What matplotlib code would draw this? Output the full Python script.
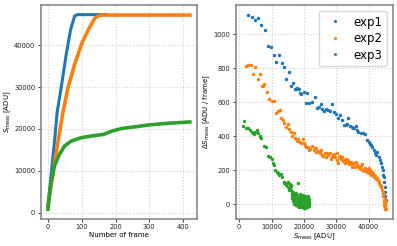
import numpy as np
import matplotlib
matplotlib.use('Agg')
import matplotlib.pyplot as plt

# left panel: signal vs frame (read at key frames)
exp1_frame = [0, 9, 19, 27, 39, 54, 67, 79, 88, 170]
exp1_sig = [1500, 8700, 16700, 23900, 29800, 37800, 43700, 47000, 47300, 47300]
exp2_frame = [0, 14, 29, 44, 59, 79, 99, 120, 139, 155, 420]
exp2_sig = [1800, 8800, 16700, 23800, 29800, 35400, 40200, 43800, 46500, 47200, 47200]
exp3_frame = [0, 4, 9, 19, 34, 49, 69, 99, 129, 165, 190, 220, 260, 300, 350, 420]
exp3_sig = [790, 3960, 7160, 11120, 13910, 15900, 17090, 17900, 18280, 18690,
            19480, 20120, 20500, 20950, 21300, 21650]

# right panel: increment per frame vs signal
exp1_s = [2820, 3870, 4900, 5940, 6880, 7940, 8970, 9910, 10630, 11470, 12310, 13130,
          13870, 14590, 15310, 16060, 16780, 17190, 17620, 18030, 18440, 18660, 19180,
          19900, 20530, 21060, 21690, 22500, 23340, 24190, 24810, 25220, 25630, 26250,
          26880, 27500, 28130, 28750, 29380, 30000, 30440, 31060, 31690, 32500, 32940,
          33440, 33750, 34190, 34810, 35310, 35630, 36060, 36380, 36880, 37630, 38440,
          38970, 39500, 40000, 40310, 40750, 41060, 41690, 42090, 42410, 42630, 43130,
          43660, 43970, 44190, 44380, 44590, 44690, 44910, 45000, 45220, 45220, 45250,
          45220, 45200]
exp1_ds = [1115, 1103, 1084, 1098, 1057, 1023, 933, 923, 880, 839, 878, 833,
           804, 737, 775, 696, 714, 675, 677, 681, 677, 655, 646,
           659, 593, 651, 593, 602, 628, 563, 573, 587, 558, 546,
           558, 553, 550, 589, 542, 530, 505, 522, 495, 465, 467,
           471, 507, 460, 452, 450, 446, 460, 436, 424, 417, 420,
           413, 377, 366, 354, 348, 335, 319, 303, 289, 307, 279,
           260, 241, 221, 201, 172, 162, 133, 103, 74, 45, 25,
           15, -4]

exp2_s = [2000, 2720, 3560, 4380, 5000, 5840, 6560, 7090, 7410, 7810, 8560, 9280,
          10000, 10630, 11380, 11880, 12630, 12940, 13440, 13970, 14500, 15000, 15530,
          16060, 16380, 17000, 17410, 17810, 18250, 18660, 19190, 19690, 20220, 20750,
          21250, 22000, 22620, 23030, 23340, 23880, 24380, 24910, 25440, 25630, 26470,
          27000, 27500, 28030, 28560, 29060, 29590, 30130, 30630, 30840, 31470, 31880,
          32500, 32720, 33250, 33750, 33970, 34590, 35000, 35630, 35840, 36380, 36880,
          37410, 37940, 38130, 38750, 38970, 39500, 39810, 40220, 40530, 40840, 41250,
          41560, 42090, 42630, 42940, 43340, 43660, 43970, 44190, 44380, 44590, 44690,
          44850, 44910, 44950, 45000, 45050, 45100, 45150, 45200, 45080, 45120, 45180,
          45020, 45250, 45140, 45060, 45220,
          20000, 21600, 23600, 24600, 26000, 27200, 28300, 29300, 30400, 31200, 32200,
          33000, 34000, 34900, 36000, 37000, 37700, 38500, 39200, 40000, 41000, 41800,
          42400, 43100, 43800]
exp2_ds = [812, 818, 816, 765, 804, 734, 765, 696, 696, 704, 661, 618,
           608, 606, 538, 546, 552, 505, 497, 475, 456, 470, 440,
           426, 403, 417, 391, 372, 383, 367, 358, 382, 348, 336,
           338, 325, 344, 317, 329, 309, 315, 299, 319, 289, 299,
           280, 289, 299, 280, 289, 276, 303, 244, 280, 264, 276,
           260, 244, 250, 260, 237, 250, 231, 241, 221, 231, 225,
           211, 201, 237, 197, 211, 191, 205, 186, 201, 172, 182,
           162, 166, 153, 139, 123, 113, 100, 84, 65, 45, 25,
           10, -5, -14, -29, 18, 5, -20, -8, 30, -25, 0,
           12, -30, -15, 22, -12,
           360, 318, 330, 305, 285, 298, 268, 292, 262, 285, 253,
           265, 245, 220, 245, 215, 222, 205, 198, 210, 190, 172,
           145, 132, 108]

exp3_s = [1160, 1560, 2190, 2720, 3250, 3870, 4280, 4590, 4910, 5440, 5940, 6380,
          6470, 6880, 7720, 8250, 9060, 9500, 10000, 10310, 10840, 11160, 11560, 11880,
          12410, 12940, 13250, 13750, 13970, 14500, 14800, 15000, 15200, 15310, 15530,
          15600, 15800, 16000, 16060, 16230, 16380, 16560, 16720, 16850, 17090, 17160,
          17320, 17450, 17620, 17700, 17830, 17950, 18080, 18130, 18300, 18270, 18420,
          18510, 18640, 18700, 18820, 18930, 19010, 19120, 19190, 19330, 19410, 19520,
          19580, 19700, 19760, 19880, 19950, 20050, 20110, 20230, 20290, 20400, 20470,
          20560, 20620, 20740, 20800, 20910, 20960, 21060, 21130, 21220, 21290, 21380,
          21450, 21520, 17260, 17880, 18560, 19250, 19830, 20350, 20850, 21350, 16900,
          17540, 18180, 18990, 19640, 20180, 20690, 21180,
          16120, 16340, 16470, 16610, 16780, 16950, 17030, 17210, 17380, 17510, 17670,
          17790, 17920, 18040, 18190, 18350, 18460, 18590, 18760, 18870, 19060, 19170,
          19280, 19370, 19460, 19630, 19720, 19810, 19920, 20010, 20140, 20260, 20330,
          20440, 20520, 20590, 20680, 20770, 20880, 20990, 21030, 21170, 21260, 21330,
          21410, 21480, 21560, 21600, 17100, 17600, 18250, 18800, 19400, 19990, 20600,
          21100, 21500, 18000, 19000, 20000]
exp3_ds = [458, 491, 446, 450, 436, 426, 417, 411, 426, 436, 417, 397,
           403, 391, 344, 338, 285, 279, 266, 241, 231, 201, 191, 182,
           172, 176, 162, 133, 123, 113, 125, 103, 130, 84, 94,
           120, 98, 105, 113, 60, 45, 74, 30, 52, 55, 15,
           40, 62, 65, 25, 5, 48, 35, -10, 125, 20, 12,
           42, 0, 28, -5, 55, 18, 8, 36, -15, 22, 45,
           10, 30, -3, 40, 15, -20, 5, 25, 50, 32, -8,
           12, 20, 38, 2, -12, 28, 15, 8, 45, 22, 30,
           -5, 12, 18, 35, -18, 25, 5, 40, 10, -10, 30,
           22, 0, 35, 15, -14, 28, 8,
           85, 70, 38, 58, 20, 45, 32, 10, 50, 26, -8,
           38, 14, 48, 3, 34, -12, 22, 40, 6, 28, -16,
           44, 10, 33, -6, 18, 52, -2, 26, 14, 38, -20,
           8, 30, -9, 20, 42, 3, 16, -18, 34, 6, 24,
           -4, 28, 10, 2, -2, 30, 16, 60, 5, -22, 18,
           40, -10, -5, 48, 12]

colors = ['#1f77b4', '#ff7f0e', '#2ca02c']
spine_col = '#808080'


def style_axes(ax):
    ax.grid(True, color='#d0d0d0', linestyle=':', linewidth=0.8)
    ax.set_axisbelow(True)
    for sp in ax.spines.values():
        sp.set_color(spine_col)
        sp.set_linewidth(1.1)
    ax.tick_params(labelsize=4.8, length=2.5, width=0.6, pad=1.5, colors='#222222')


fig = plt.figure(figsize=(3.97, 2.46), dpi=100)
ax1 = fig.add_axes([0.103, 0.110, 0.393, 0.870])
ax2 = fig.add_axes([0.594, 0.110, 0.395, 0.870])

ax1.plot(exp1_frame, exp1_sig, color=colors[0], lw=2.2)
ax1.plot(exp2_frame, exp2_sig, color=colors[1], lw=2.6)
ax1.plot(exp3_frame, exp3_sig, color=colors[2], lw=2.6)
ax1.set_xticks([0, 100, 200, 300, 400])
ax1.set_yticks([0, 10000, 20000, 30000, 40000])
ax1.set_xlabel('Number of frame', fontsize=5, labelpad=1)
ax1.set_ylabel(r'$S_{\rm meas}$ [ADU]', fontsize=5, labelpad=1)
style_axes(ax1)

ax2.plot(exp1_s, exp1_ds, '.', color=colors[0], ms=3, label='exp1')
ax2.plot(exp2_s, exp2_ds, '.', color=colors[1], ms=3, label='exp2')
ax2.plot(exp3_s, exp3_ds, '.', color=colors[2], ms=3, label='exp3')
ax2.set_xticks([0, 10000, 20000, 30000, 40000])
ax2.set_yticks([0, 200, 400, 600, 800, 1000])
ax2.set_xlabel(r'$S_{\rm meas}$ [ADU]', fontsize=5, labelpad=1)
ax2.set_ylabel(r'$\Delta S_{\rm meas}$ [ADU / frame]', fontsize=5, labelpad=1)
style_axes(ax2)
ax2.legend(loc='upper right', fontsize=8.5, handletextpad=0.5, labelspacing=0.3,
           borderpad=0.4, framealpha=0.8, markerscale=0.8)

fig.savefig('out.png', dpi=100)
